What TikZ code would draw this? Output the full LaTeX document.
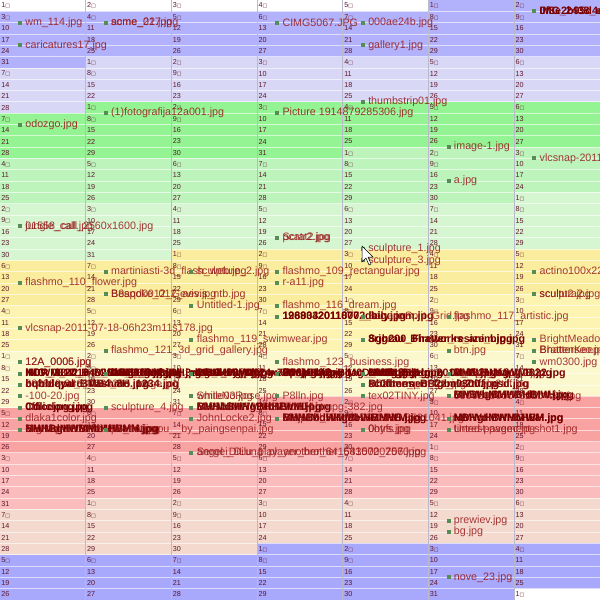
\documentclass[tikz,border=0pt]{standalone}
\usepackage{fontspec}
\setmainfont{Liberation Sans}
\newfontfamily\boxfont{DejaVu Sans}
\usetikzlibrary{positioning}
\definecolor{m_jan}{RGB}{178,178,252}
\definecolor{m_feb}{RGB}{216,216,246}
\definecolor{m_mar}{RGB}{148,244,148}
\definecolor{m_apr}{RGB}{188,244,188}
\definecolor{m_may}{RGB}{214,246,210}
\definecolor{m_jun}{RGB}{250,238,158}
\definecolor{m_jul}{RGB}{252,244,176}
\definecolor{m_aug}{RGB}{252,248,206}
\definecolor{m_sep}{RGB}{248,162,162}
\definecolor{m_oct}{RGB}{250,188,188}
\definecolor{m_nov}{RGB}{244,218,206}
\definecolor{m_dec}{RGB}{168,168,252}
\definecolor{my_ink}{RGB}{150,22,22}
\definecolor{my_dark}{RGB}{122,0,0}
\definecolor{my_day}{RGB}{96,22,44}
\definecolor{my_green}{RGB}{86,140,86}
\definecolor{my_grid}{RGB}{186,186,204}
\tikzset{
  daynum/.style = {anchor=west, inner sep=0pt, text=my_day, font=\fontsize{7.2}{8}\selectfont},
  pic_dot/.style = {rectangle, fill=my_green, inner sep=0pt, minimum size=4pt},
  pic_name/.style = {anchor=west, inner sep=0pt, text=my_ink, text opacity=0.85,
  font=\fontsize{10.7}{12}\selectfont},
  pic_busy/.style = {pic_name, text=my_dark, text opacity=1, font=\fontsize{10.7}{12}\bfseries}
}
\def\colw{85.7143}
\def\rowh{11.3208}
% colour (\mc) and shown day (\dn) of day #1 of 2010, 0 = 1 January
\newcommand\monthof[1]{%
  \ifnum#1<0 \def\mc{white}\pgfmathtruncatemacro\dn{#1+6}\else
  \ifnum#1<31 \def\mc{m_jan}\pgfmathtruncatemacro\dn{#1+1}\else
  \ifnum#1<59 \def\mc{m_feb}\pgfmathtruncatemacro\dn{#1-30}\else
  \ifnum#1<90 \def\mc{m_mar}\pgfmathtruncatemacro\dn{#1-58}\else
  \ifnum#1<120 \def\mc{m_apr}\pgfmathtruncatemacro\dn{#1-89}\else
  \ifnum#1<151 \def\mc{m_may}\pgfmathtruncatemacro\dn{#1-119}\else
  \ifnum#1<181 \def\mc{m_jun}\pgfmathtruncatemacro\dn{#1-150}\else
  \ifnum#1<212 \def\mc{m_jul}\pgfmathtruncatemacro\dn{#1-180}\else
  \ifnum#1<243 \def\mc{m_aug}\pgfmathtruncatemacro\dn{#1-211}\else
  \ifnum#1<273 \def\mc{m_sep}\pgfmathtruncatemacro\dn{#1-242}\else
  \ifnum#1<304 \def\mc{m_oct}\pgfmathtruncatemacro\dn{#1-272}\else
  \ifnum#1<334 \def\mc{m_nov}\pgfmathtruncatemacro\dn{#1-303}\else
  \ifnum#1<365 \def\mc{m_dec}\pgfmathtruncatemacro\dn{#1-333}\else
  \def\mc{white}\pgfmathtruncatemacro\dn{#1-364}%
  \fi\fi\fi\fi\fi\fi\fi\fi\fi\fi\fi\fi\fi}
% one picture: [style], name, column, row line, file
\newcommand\photo[5][pic_name]{%
  \node[pic_dot] (#2) at ({#3*\colw+20},{#4*\rowh}) {};
  \node[#1, right=3pt of #2] (#2-t) {#5};}
% several pictures on the same day
\newcommand\pile[4]{%
  \foreach \f [count=\i] in {#4}{\photo{#1-\i}{#2}{#3}{\f}}}
\newcommand\busy[4]{%
  \foreach \f [count=\i] in {#4}{\photo[pic_busy]{#1-\i}{#2}{#3}{\f}}}

\begin{document}
\begin{tikzpicture}[x=1pt, y=-1pt]
  \useasboundingbox (0,0) rectangle (600,600);
  \clip (0,0) rectangle (600,600);
  % the weeks of 2010
  \foreach \r in {0,...,52}{
    \foreach \c in {0,...,6}{
      \pgfmathtruncatemacro\n{7*\r+\c-5}
      \monthof{\n}
      \fill[\mc] ({\c*\colw},{\r*\rowh}) rectangle ({(\c+1)*\colw},{(\r+1)*\rowh});
    }
  }
  \foreach \r in {1,...,52}
    \draw[white, opacity=0.6, line width=0.8pt] (0,{\r*\rowh}) -- (600,{\r*\rowh});
  \foreach \c in {1,...,6}
    \draw[my_grid, line width=0.8pt] ({\c*\colw},0) -- ({\c*\colw},600);
  \foreach \r in {0,...,52}{
    \foreach \c in {0,...,6}{
      \pgfmathtruncatemacro\n{7*\r+\c-5}
      \monthof{\n}
      \node[daynum] (d\r-\c) at ({\c*\colw+1.2},{(\r+0.5)*\rowh})
        {\dn\ifnum\dn<10 {\boxfont\fontsize{5}{5}\selectfont □}\fi};
    }
  }

  % pictures
  \busy{p1}{6}{1}{0f8e2b95d4c1.jpg,IMG\_2438\_edit.jpg}
  \photo{p2}{0}{2}{wm\_114.jpg}
  \pile{p3}{1}{2}{acme\_027.jpg,some\_21.jpg}
  \photo{p4}{3}{2}{CIMG5067.JPG}
  \photo{p5}{4}{2}{000ae24b.jpg}
  \photo{p6}{0}{4}{caricatures17.jpg}
  \photo{p7}{4}{4}{gallery1.jpg}
  \photo{p8}{4}{9}{thumbstrip01.jpg}
  \photo{p9}{1}{10}{(1)fotografija12a001.jpg}
  \photo{p10}{3}{10}{Picture 1914879285306.jpg}
  \photo{p11}{0}{11}{odozgo.jpg}
  \photo{p12}{5}{13}{image-1.jpg}
  \photo{p13}{6}{14}{vlcsnap-2011-07-18-06h22m53s102.jpg}
  \photo{p14}{5}{16}{a.jpg}
  \pile{p15}{0}{20}{01558\_call\_2560x1600.jpg,jungle\_call.jpg}
  \pile{p16}{3}{21}{Scrat2.jpg,pcatr2.jpg}
  \photo{p17}{4}{22}{sculpture\_1.jpg}
  \photo{p18}{4}{23}{sculpture\_3.jpg}
  \photo{p19}{1}{24}{martiniasti-3d\_flash\_web.jpg}
  \photo{p20}{2}{24}{sculpture\_2.jpg}
  \photo{p21}{3}{24}{flashmo\_109\_rectangular.jpg}
  \photo{p22}{6}{24}{actino100x2200.jpg}
  \photo{p23}{0}{25}{flashmo\_110\_flower.jpg}
  \photo{p24}{3}{25}{r-a11.jpg}
  \pile{p25}{1}{26}{Bespoke\_012\_aevis\_ntb.jpg,B8aqd0012\_Gevis.jpg}
  \pile{p26}{6}{26}{sculpt2.jpg,scultura2.jpg2.jpg}
  \photo{p27}{2}{27}{Untitled-1.jpg}
  \photo{p28}{3}{27}{flashmo\_116\_dream.jpg}
  \busy{p29}{3}{28}{1989032011807\_daily\_jnm.jpg,12683420110702\_big.jpg}
  \photo{p30}{4}{28}{BananaSplit\_Grid.jpg}
  \photo{p31}{5}{28}{flashmo\_117\_artistic.jpg}
  \photo{p32}{0}{29}{vlcsnap-2011-07-18-06h23m11s178.jpg}
  \photo{p33}{2}{30}{flashmo\_119\_swimwear.jpg}
  \busy{p34}{4}{30}{8rjgrau\_Bhatter\_resize\_big.jpg,Sgh200\_Fireworks\_anim.jpg}
  \photo{p35}{6}{30}{BrightMeadow.jpg}
  \photo{p36}{1}{31}{flashmo\_121\_3d\_grid\_gallery.jpg}
  \photo{p37}{5}{31}{btn.jpg}
  \pile{p38}{6}{31}{BhatterKeeper.jpg,Brattenseo.jpg}
  \pile{p39}{0}{32}{12A\_0006.jpg,12A\_0005.jpg}
  \photo{p40}{3}{32}{flashmo\_123\_business.jpg}
  \photo{p41}{6}{32}{wm0300.jpg}
  % the crowded weeks
  \busy{p42}{0}{33}{IMG\_0812\_B4\_2010\_large\_wall.jpg,HDR\_8842\_mB\_Bhag\_final.jpg,M0WM\_2010\_MWMBB\_0.jpg}
  \busy{p43}{1}{33}{DSC08842\_BH\_web\_MMWM.jpg,Wm\_BB\_B8H\_3d\_gallery.jpg,hHB8\_0Mj.jpg}
  \busy{p44}{2}{33}{2010\_08\_WM\_wallpaper\_B.jpg,MB8HHg\_1024x768\_jpg.jpg,BBM\_00W.jpg}
  \busy{p45}{3}{33}{P1010842\_Bhag\_MWMB\_ed.jpg,8H8H\_bigm\_M0D\_web.jpg,WMMB0.jpg}
  \busy{p46}{4}{33}{MWB\_BHHg\_2010\_0821\_s.jpg,HM8g\_BB\_mm\_0d\_W.jpg,BMWgg.jpg}
  \busy{p47}{5}{33}{BH8\_BMMW\_0822.jpg,MWbH\_big\_WB.jpg}
  \photo{p47x}{5}{33}{Sahlpls\_sculpls.jpg}
  \busy{p48}{0}{34}{bubbleyard\_flashmo\_1234.jpg,bqhldqpd\_BMB4\_8H.jpg}
  \photo{p48x}{0}{34}{888888-34880003286.image.jpg}
  \busy{p49}{4}{34}{sc0flmes\_BB2zmle2tiff\_psd.jpg,Bhattermeo\_fgba0300.jpg}
  \photo{p49x}{4}{34}{st0ffices\_persg1\_jpg2mela2tiff.jpg}
  \photo{p50}{0}{35}{-100-20.jpg}
  \pile{p51}{2}{35}{Smile03.jpg,whiteNoRose.jpg}
  \photo{p52}{3}{35}{P8lln.jpg}
  \photo{p53}{4}{35}{tex02TINY.jpg}
  \busy{p54}{5}{35}{BHBHgBHHBHBmH.jpg,MMWbMMWMdMW.jpg}
  \photo{p54x}{5}{35}{0900200000782254t20.jpg}
  \busy{p55}{0}{36}{Cdliclong.jpg,0fficejpg.jpg}
  \photo{p56}{1}{36}{sculpture\_4.jpg}
  \busy{p57}{2}{36}{BHHbBHHgBHHBmHH.jpg,MWMdMWMMbMWM.jpg}
  \photo{p57x}{2}{36}{5889288073\_DSCF1174\_tmpg-382.jpg}
  \photo{p58}{0}{37}{dlaka1color.jpg}
  \photo{p59}{2}{37}{JohnLocke2.jpg}
  \busy{p60}{3}{37}{BHHBb\_HHgBHHBHHB.jpg,MWMMdWMMbWMMWM.jpg}
  \photo{p60x}{3}{37}{Bl6jp9Sh55S00-9552980-3521041.jpg}
  \busy{p61}{5}{37}{HBHgHBHHbHBH.jpg,MMWdMWMMWM.jpg}
  \busy{p62}{0}{38}{BHHBgHHBHbHHBHH.jpg,MWMdMWMMbMWMM.jpg}
  \photo{p62x}{0}{38}{ckgrd-p-2010-09-26-shot.jpg}
  \photo{p63}{1}{38}{pe\_ting\_you\_\_by\_paingsenpai.jpg}
  \pile{p64}{4}{38}{0oyfs.jpg,0htrs.jpg}
  \pile{p65}{5}{38}{tinted-pavement-shot1.jpg,Unrest-pagec.jpg}
  \pile{p66}{2}{40}{angel\_DiLuna\_player\_brother\_6415020707.jpg,Sergei\_Dilu\_play\_another\_641583070\_2560.jpg}
  \photo{p67}{5}{46}{prewiev.jpg}
  \photo{p68}{5}{47}{bg.jpg}
  \photo{p69}{5}{51}{nove\_23.jpg}

  % mouse pointer
  \filldraw[fill=white, draw=black, line width=0.5pt] (362,246) -- (362,262) -- (366,258)
    -- (369,265) -- (371,264) -- (368,257) -- (373,257) -- cycle;
\end{tikzpicture}
\end{document}
